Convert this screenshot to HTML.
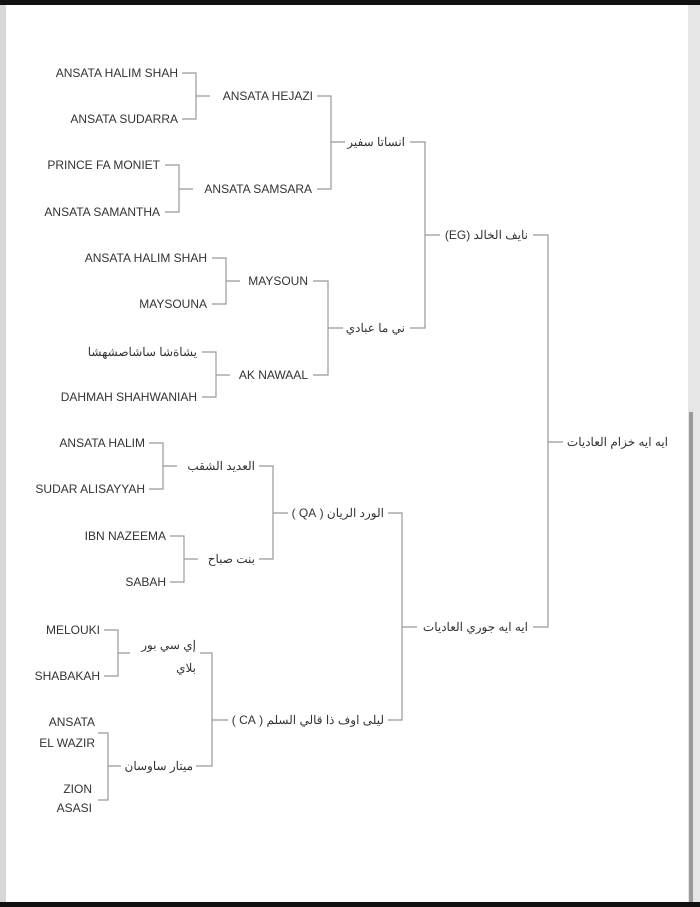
<!DOCTYPE html>
<html><head><meta charset="utf-8"><style>
html,body{margin:0;padding:0;background:#fff;}
svg{display:block;}
text{font-family:"Liberation Sans","Noto Sans CJK SC",sans-serif;font-size:12px;fill:#333;}
text.ar{direction:rtl;unicode-bidi:embed;}
</style></head><body>
<svg width="700" height="907" viewBox="0 0 700 907" xmlns="http://www.w3.org/2000/svg">
<rect x="0" y="0" width="700" height="907" fill="#fff"/>
<rect x="0" y="0" width="700" height="5" fill="#111"/>
<rect x="0" y="902" width="700" height="5" fill="#111"/>
<rect x="0" y="5" width="6" height="897" fill="#d8d8d8"/>
<rect x="688" y="5" width="12" height="897" fill="#e6e6e6"/>
<rect x="689" y="412" width="4" height="490" fill="#9a9a9a"/>
<g stroke="#999" stroke-width="1.2" fill="none">
<path d="M182 73H196V119H182M196 96H210"/>
<path d="M165 165H179V212H165M179 189H193"/>
<path d="M212 258H226V304H212M226 281H240"/>
<path d="M202 352H216V397H202M216 375H230"/>
<path d="M317 96H331V189H317M331 142H345"/>
<path d="M313 281H328V375H313M328 328H343"/>
<path d="M410 142H425V328H410M425 235H440"/>
<path d="M533 235H548V627H533M548 442H563"/>
<path d="M149 443H163V489H149M163 466H177"/>
<path d="M170 536H184V582H170M184 559H198"/>
<path d="M259 466H273V559H259M273 513H288"/>
<path d="M388 513H402V720H388M402 627H417"/>
<path d="M104 630H118V676H104M118 653H130"/>
<path d="M200 653H212V766H196M212 720H228"/>
<path d="M98 733H108V800H98M108 766H121"/>
</g>
<g text-anchor="end">
<text x="178" y="77">ANSATA HALIM SHAH</text>
<text x="178" y="123">ANSATA SUDARRA</text>
<text x="313" y="100">ANSATA HEJAZI</text>
<text x="160" y="169">PRINCE FA MONIET</text>
<text x="160" y="216">ANSATA SAMANTHA</text>
<text x="312" y="193">ANSATA SAMSARA</text>
<text x="207" y="262">ANSATA HALIM SHAH</text>
<text x="207" y="308">MAYSOUNA</text>
<text x="308" y="285">MAYSOUN</text>
<text x="197" y="401">DAHMAH SHAHWANIAH</text>
<text x="308" y="379">AK NAWAAL</text>
<text x="145" y="447">ANSATA HALIM</text>
<text x="145" y="493">SUDAR ALISAYYAH</text>
<text x="166" y="540">IBN NAZEEMA</text>
<text x="166" y="586">SABAH</text>
<text x="100" y="634">MELOUKI</text>
<text x="100" y="680">SHABAKAH</text>
<text x="95" y="726">ANSATA</text>
<text x="95" y="747">EL WAZIR</text>
<text x="92" y="793">ZION</text>
<text x="92" y="812">ASASI</text>
</g>
<g text-anchor="start">
<text class="ar" x="197" y="356">يشاةشا ساشاصشهشا</text>
<text class="ar" x="405" y="146">انساتا سفير</text>
<text class="ar" x="405" y="332">ني ما عبادي</text>
<text class="ar" x="528" y="239">نايف الخالد (EG)</text>
<text class="ar" x="668" y="446">ايه ايه خزام العاديات</text>
<text class="ar" x="255" y="470">العديد الشقب</text>
<text class="ar" x="255" y="563">بنت صباح</text>
<text class="ar" x="384" y="517">الورد الريان ( QA )</text>
<text class="ar" x="528" y="631">ايه ايه جوري العاديات</text>
<text class="ar" x="196" y="649">إي سي بور</text>
<text class="ar" x="196" y="672">بلاي</text>
<text class="ar" x="384" y="724">ليلى اوف ذا قالي السلم ( CA )</text>
<text class="ar" x="193" y="770">ميتار ساوسان</text>
</g>
</svg>
</body></html>
